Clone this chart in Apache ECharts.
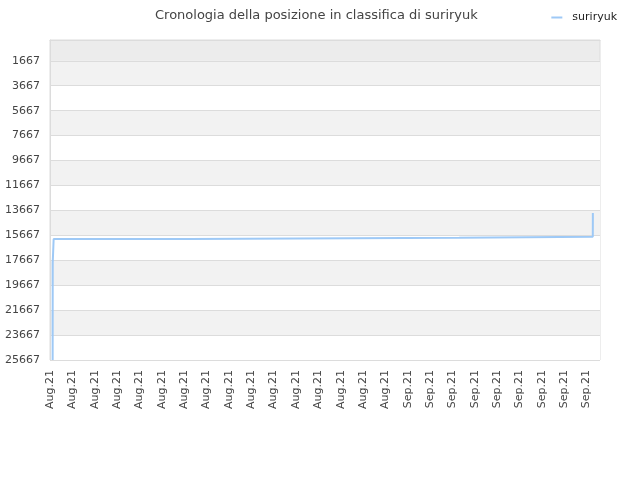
<!DOCTYPE html>
<html>
<head>
<meta charset="utf-8">
<script src="https://cdn.jsdelivr.net/npm/echarts@6/dist/echarts.min.js"></script>
<style>html,body{margin:0;padding:0;background:#fff;}#c{width:640px;height:480px;}</style>
</head>
<body>
<div id="c"></div>
<script>
var titleText = 'Cronologia della posizione in classifica di suriryuk';
var seriesName = 'suriryuk';
// time points (UTC) and rank values
var times = [
  '2021-08-16T02:50:00Z', '2021-08-16T02:55:00Z', '2021-08-16T03:50:00Z', '2021-08-16T03:55:00Z',
  '2021-08-22T05:10:00Z', '2021-08-22T05:15:00Z',
  '2021-09-03T07:10:00Z', '2021-09-03T07:15:00Z',
  '2021-09-09T06:40:00Z', '2021-09-09T06:45:00Z'
];
var ranks = [25667, 17886, 17886, 15962, 15962, 15866, 15866, 15786, 15786, 13876];
var yTickValues = [1667, 3667, 5667, 7667, 9667, 11667, 13667, 15667, 17667, 19667, 21667, 23667, 25667];
var monthLabels = ['Jan','Feb','Mar','Apr','May','Jun','Jul','Aug','Sep','Oct','Nov','Dec'];

var DAY = 86400000;
var xMin = Date.UTC(2021, 7, 16);
var xMax = xMin + 24.6 * DAY;

var data = times.map(function (t, i) { return [new Date(t).getTime(), ranks[i]]; });

var chart = echarts.init(document.getElementById('c'), null, {renderer: 'canvas'});
chart.setOption({
  animation: false,
  backgroundColor: '#fff',
  title: {
    text: titleText, left: 150, top: 4,
    textStyle: {fontFamily: 'DejaVu Sans', fontSize: 13, fontWeight: 'normal', color: '#444'}
  },
  legend: {
    right: 18, top: 7, itemWidth: 11, itemHeight: 2, itemGap: 8,
    icon: 'rect',
    textStyle: {fontFamily: 'DejaVu Sans', fontSize: 11, color: '#222', padding: [0, 0, 0, 5]},
    data: [seriesName]
  },
  grid: {
    left: 50, right: 40, top: 40, bottom: 120,
    show: true, backgroundColor: '#ececec', borderColor: '#dcdcdc', borderWidth: 1
  },
  xAxis: {
    type: 'value', min: xMin, max: xMax, interval: DAY,
    axisLine: {show: true, lineStyle: {color: '#dcdcdc'}},
    axisTick: {show: false},
    splitLine: {show: false},
    axisLabel: {
      rotate: 90, margin: 10, fontFamily: 'DejaVu Sans', fontSize: 11, color: '#444',
      showMaxLabel: false,
      formatter: function (v) {
        var d = new Date(v);
        return monthLabels[d.getUTCMonth()] + '.' + String(d.getUTCFullYear()).slice(2);
      }
    }
  },
  yAxis: {
    type: 'value', inverse: true, min: 0, max: 25667,
    axisLine: {show: true, lineStyle: {color: '#dcdcdc'}},
    axisTick: {show: false, customValues: yTickValues},
    axisLabel: {
      customValues: yTickValues, margin: 10, fontFamily: 'DejaVu Sans', fontSize: 11, color: '#444',
      formatter: function (v) { return String(v); }
    },
    splitLine: {show: true, lineStyle: {color: '#dcdcdc', width: 1}},
    splitArea: {show: true, areaStyle: {color: ['#f2f2f2', '#ffffff']}}
  },
  series: [{
    name: seriesName, type: 'line', data: data, showSymbol: false, symbol: 'none',
    lineStyle: {color: '#9ec9f6', width: 2}, itemStyle: {color: '#9ec9f6'}
  }]
});
</script>
</body>
</html>
